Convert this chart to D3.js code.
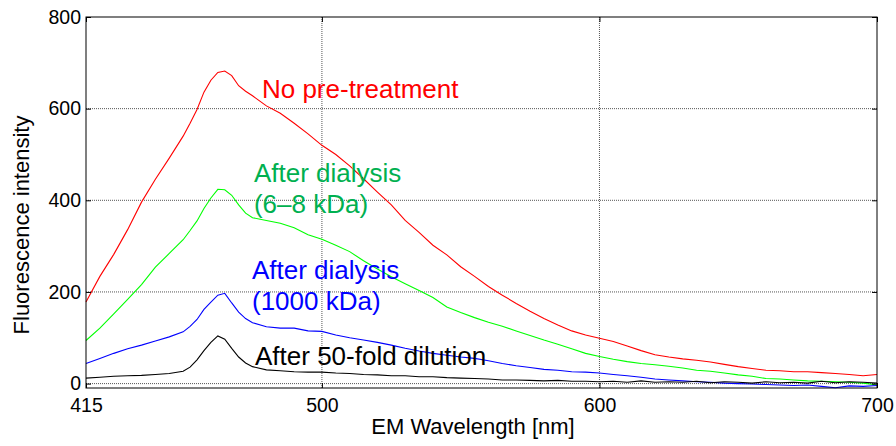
<!DOCTYPE html>
<html>
<head>
<meta charset="utf-8">
<script src="https://cdn.jsdelivr.net/npm/d3@7"></script>
<style>
  body { margin: 0; background: #fff; }
  svg text { font-family: "Liberation Sans", Arial, sans-serif; }
</style>
</head>
<body>
<div id="chart"></div>
<script>
// wavelengths (nm), denser around the peak
const wavelength = [415, 420, 425, 430, 435, 440, 445, 450,
  452.5, 455, 457.5, 460, 462.5, 465, 467.5, 470, 472.5, 475,
  480, 485, 490, 495, 500, 505, 510, 515, 520, 525, 530, 535, 540, 545, 550, 555, 560, 565, 570, 575,
  580, 585, 590, 595, 600, 605, 610, 615, 620, 625, 630, 635, 640, 645, 650, 655, 660, 665, 670, 675,
  680, 685, 690, 695, 700];

const noPretreatment = [178, 234, 282, 336, 396, 446, 492, 540,
  568, 598, 636, 662, 679, 682, 672, 650, 638, 628,
  606, 590, 568, 545, 520, 500, 475, 447, 418, 390, 356, 330, 302, 281, 255, 234, 212, 193, 175, 158,
  142, 128, 115, 106, 99, 92, 82, 72, 63, 58, 54, 51, 47, 42, 37, 33, 29, 28, 26, 26,
  24, 22, 20, 17, 20];

const dialysis68 = [94, 121, 152, 184, 216, 254, 284, 314,
  334, 355, 382, 405, 424, 423, 411, 390, 372, 362,
  356, 350, 340, 325, 315, 302, 288, 268, 250, 233, 218, 203, 188, 167, 155, 144, 134, 125, 115, 105,
  95, 86, 76, 66, 59, 53, 48, 44, 41, 38, 34, 29, 27, 23, 19, 16, 11, 10, 8, 6,
  5, 4, 3, 1, -3];

const dialysis1000 = [44, 55, 66, 76, 84, 93, 102, 113,
  125, 140, 162, 178, 193, 197, 176, 156, 142, 133,
  124, 121, 121, 115, 114, 106, 100, 95, 90, 84, 77, 71, 66, 62, 58, 55, 50, 44, 39, 35,
  31, 29, 26, 25, 23, 20, 17, 14, 10, 8, 6, 4, 3, 1, 0, -1, -2, -3, -4, -3,
  -6, -9, -5, -6, -4];

const dilution50 = [12, 14, 16, 17, 18, 20, 22, 27,
  36, 52, 72, 90, 104, 97, 77, 58, 45, 37,
  30, 28, 26, 25, 25, 23, 22, 20, 19, 17, 17, 15, 15, 13, 12, 11, 10, 8, 8, 7,
  6, 7, 5, 5, 4, 5, 3, 6, 3, 4, 3, 5, 2, 4, 3, 1, 4, 2, 3, 1,
  5, 2, 4, 3, 1];

const xTicks = [415, 500, 600, 700];
const yTicks = [0, 200, 400, 600, 800];

const series = [
  {name: "red", values: noPretreatment, line: "#ff0000", text: "#ff0000",
   label: ["No pre-treatment"], at: [478.4, 624]},
  {name: "green", values: dialysis68, line: "#00ff00", text: "#00b050",
   label: ["After dialysis", "(6\u20138 kDa)"], at: [475.5, 440]},
  {name: "blue", values: dialysis1000, line: "#0000ff", text: "#0000ff",
   label: ["After dialysis", "(1000 kDa)"], at: [474.8, 229]},
  {name: "black", values: dilution50, line: "#000000", text: "#000000",
   label: ["After 50-fold dilution"], at: [475.9, 40]}
];

const W = 896, H = 446;
const margin = {top: 17, right: 19, bottom: 58, left: 86};
const width = W - margin.left - margin.right,
    height = H - margin.top - margin.bottom;

const svg = d3.select("#chart")
    .append("svg")
    .attr("width", W)
    .attr("height", H)
    .append("g")
    .attr("transform", `translate(${margin.left},${margin.top})`);

const x = d3.scaleLinear().domain([415, 700]).range([0, width]);
const y = d3.scaleLinear().domain([-9.6, 800]).range([height, 0]);

// dotted grid
svg.append("g")
    .selectAll("line")
    .data(yTicks.filter(d => d < 800))
    .join("line")
    .attr("x1", 0).attr("x2", width)
    .attr("y1", d => y(d)).attr("y2", d => y(d))
    .attr("stroke", "#555")
    .attr("stroke-dasharray", "1,1");
svg.append("g")
    .selectAll("line")
    .data(xTicks.filter(d => d > 415 && d < 700))
    .join("line")
    .attr("y1", 0).attr("y2", height)
    .attr("x1", d => x(d)).attr("x2", d => x(d))
    .attr("stroke", "#555")
    .attr("stroke-dasharray", "1,1");

// lines
const line = d3.line()
    .x((d, i) => x(wavelength[i]))
    .y(d => y(d));
svg.selectAll("path.series")
    .data(series)
    .join("path")
    .attr("class", "series")
    .attr("d", d => line(d.values))
    .attr("fill", "none")
    .attr("stroke", d => d.line)
    .attr("stroke-width", 1.1);

// axes with inward ticks
const fontTick = "19.5px";
svg.append("g")
    .attr("transform", `translate(0,${height})`)
    .call(d3.axisBottom(x).tickValues(xTicks).tickSize(-5).tickPadding(10));
svg.append("g")
    .call(d3.axisLeft(y).tickValues(yTicks).tickSize(-5).tickPadding(5));
svg.append("g")
    .call(d3.axisTop(x).tickValues(xTicks).tickSize(-5).tickFormat(""));
svg.append("g")
    .attr("transform", `translate(${width},0)`)
    .call(d3.axisRight(y).tickValues(yTicks).tickSize(-5).tickFormat(""));
svg.selectAll(".domain").remove();
svg.selectAll(".tick line").attr("stroke", "#000");
svg.selectAll(".tick text")
    .style("font-size", fontTick)
    .style("font-family", "'Liberation Sans', Arial, sans-serif")
    .attr("fill", "#000");

// frame
svg.append("rect")
    .attr("x", 0).attr("y", 0)
    .attr("width", width).attr("height", height)
    .attr("fill", "none")
    .attr("stroke", "#000")
    .attr("stroke-width", 1);

// axis titles
svg.append("text")
    .attr("x", 473 - margin.left)
    .attr("y", 434 - margin.top)
    .attr("text-anchor", "middle")
    .style("font-size", "22px")
    .text("EM Wavelength [nm]");
svg.append("text")
    .attr("transform", `translate(${29 - margin.left},${225 - margin.top}) rotate(-90)`)
    .attr("text-anchor", "middle")
    .style("font-size", "22px")
    .text("Fluorescence intensity");

// curve labels
series.forEach(s => {
  const t = svg.append("text")
      .attr("x", x(s.at[0]))
      .attr("y", y(s.at[1]))
      .attr("fill", s.text)
      .style("font-size", "26px");
  s.label.forEach((l, i) => {
    t.append("tspan")
        .attr("x", x(s.at[0]))
        .attr("dy", i === 0 ? 0 : 31)
        .text(l);
  });
});
</script>
</body>
</html>
